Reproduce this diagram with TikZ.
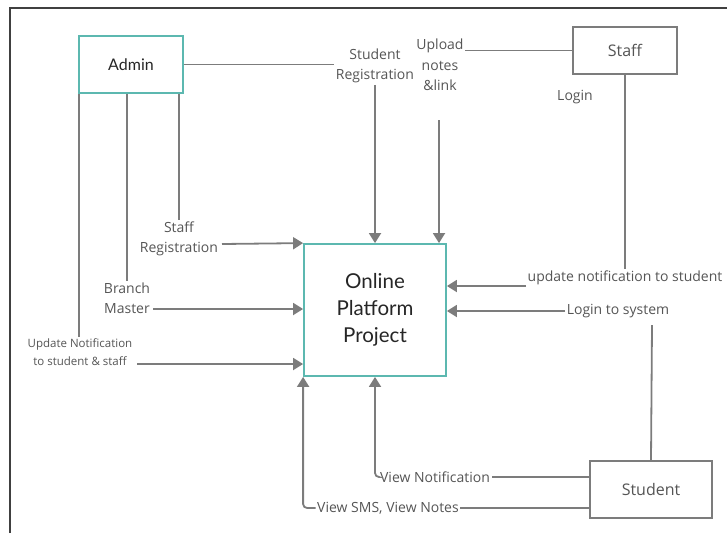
\documentclass[tikz,border=0pt]{standalone}
\usepackage{fontspec}
\setmainfont{Open Sans}
\newfontfamily\latofont{Lato}
\usepackage{tikz}
\usetikzlibrary{arrows.meta,positioning}
\definecolor{tealline}{HTML}{5CB8B0}
\definecolor{greyline}{HTML}{7C7C7C}
\definecolor{greytext}{HTML}{555555}

\begin{document}
\begin{tikzpicture}[x=1pt,y=-1pt]
			\tikzstyle{Frame}	= [draw=black!75, line width=1.5pt]
			\tikzstyle{Entity}	= [rectangle, draw=greyline, line width=1.8pt, fill=white, text=greytext, font=\fontsize{16}{18}\selectfont]
			\tikzstyle{Teal}	= [draw=tealline, text=black!85]
			\tikzstyle{Label}	= [align=center, inner sep=1.5pt, text=greytext, font=\fontsize{14}{20.5}\selectfont]
			\tikzstyle{Small}	= [font=\fontsize{11.5}{18}\selectfont]
			\tikzstyle{Flow}	= [draw=greyline, line width=1.8pt]
			\tikzstyle{FlowIn}	= [Flow, -{Triangle[length=10pt,width=12pt]}]
			
			\useasboundingbox (0,0) rectangle (727,533);
			\draw [Frame] (10,533) -- (10,8) -- (727,8);
			
			% entities and process
			\node (admin) at (131,64.5) [Entity][Teal, minimum width=104pt, minimum height=57pt, font=\latofont\fontsize{16}{18}\selectfont] {Admin};
			\node (staff) at (625,50.5) [Entity][minimum width=104pt, minimum height=47pt] {Staff};
			\node (student) at (651,489.5) [Entity][minimum width=122pt, minimum height=57pt] {Student};
			\node (platform) at (375,310) [Entity][Teal, minimum width=142pt, minimum height=132pt, align=center, font=\latofont\fontsize{20.5}{27}\selectfont] {Online\\Platform\\Project};
			
			% flow labels
			\node (stureg) at (375,66) [Label] {Student\\Registration};
			\node (upload) at (440,65) [Label] {Upload\\notes\\\&link};
			\node (login) at (575,97) [Label] {Login};
			\node (updnote) at (625,278) [Label] {update notification to student};
			\node (logsys) at (618,311) [Label] {Login to system};
			\node (stafreg) at (179,239) [Label] {Staff\\Registration};
			\node (branch) at (127,298) [Label] {Branch\\Master};
			\node (updall) at (80,352) [Label][Small] {Update Notification\\to student \& staff};
			\node (viewnot) at (435,477) [Label] {View Notification};
			\node (viewsms) at (388,508) [Label] {View SMS, View Notes};
			
			% free ends
			\coordinate (uplfoot) at (439,120);
			\coordinate (updfoot) at (526,286);
			\coordinate (logfoot) at (652,325);
			\coordinate (srfoot) at (222,244);
			\coordinate (bmfoot) at (153,309);
			\coordinate (unfoot) at (137,364);
			
			% admin
			\draw [Flow] (admin.east) -- (admin.east -| stureg.west);
			\draw [FlowIn] (stureg.south) -- (stureg.south |- platform.north);
			\draw [Flow] (admin.south east) ++(-5,0) coordinate (adm3) -- (adm3 |- stafreg.north);
			\draw [FlowIn] (srfoot) -- (platform.north west);
			\draw [Flow] (admin.south) ++(-4,0) coordinate (adm2) -- (adm2 |- branch.north);
			\draw [FlowIn] (bmfoot) -- (bmfoot -| platform.west);
			\draw [Flow] (admin.south west) ++(1,0) coordinate (adm1) -- (adm1 |- updall.north);
			\draw [FlowIn] (unfoot) -- (unfoot -| platform.west);
			
			% staff
			\draw [Flow] (staff.west) -- (staff.west -| upload.east);
			\draw [FlowIn] (uplfoot) -- (uplfoot |- platform.north);
			\draw [Flow] (staff.south) -- (updnote.north);
			\draw [FlowIn] (updfoot) -- (updfoot -| platform.east);
			
			% student
			\draw [Flow] (student.north) -- (logfoot);
			\draw [FlowIn] (logsys.west) -- (logsys.west -| platform.east);
			\draw [Flow] (student.west |- viewnot) -- (viewnot.east);
			\draw [FlowIn, rounded corners=4pt] (viewnot.west) -| (platform.south);
			\draw [Flow] (student.west |- viewsms) -- (viewsms.east);
			\draw [FlowIn, rounded corners=4pt] (viewsms.west) -| (platform.south west);
		\end{tikzpicture}
\end{document}
